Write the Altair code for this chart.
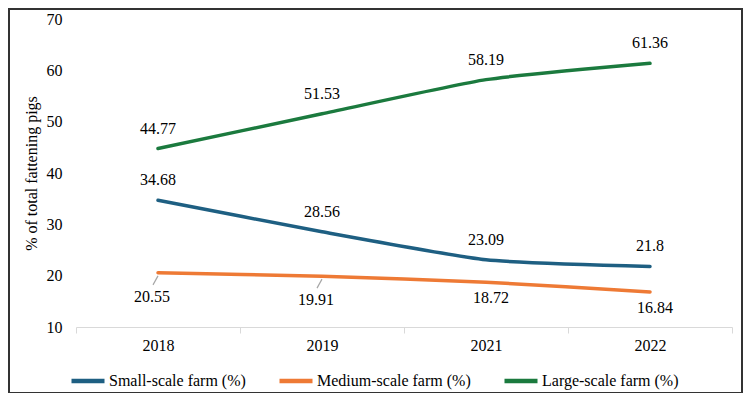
import altair as alt
import pandas as pd

years = ["2018", "2019", "2021", "2022"]
small = [34.68, 28.56, 23.09, 21.8]
medium = [20.55, 19.91, 18.72, 16.84]
large = [44.77, 51.53, 58.19, 61.36]

series_names = ["Small-scale farm (%)", "Medium-scale farm (%)", "Large-scale farm (%)"]
series_colors = ["#1E5F82", "#EE7A35", "#1B7A3E"]

rows = []
for name, vals in zip(series_names, [small, medium, large]):
    for y, v in zip(years, vals):
        rows.append({"year": y, "value": v, "series": name, "label": str(v)})
df = pd.DataFrame(rows)

FONT = "Liberation Serif"

x_enc = alt.X(
    "year:N",
    sort=years,
    scale=alt.Scale(type="band", paddingInner=0, paddingOuter=0),
    axis=alt.Axis(
        title=None, labelAngle=0, grid=False, domainColor="#d9d9d9", tickColor="#d9d9d9",
        tickSize=6, tickBand="extent", labelPadding=4, labelFontSize=16, labelFont=FONT,
        labelColor="#000000",
    ),
)
y_enc = alt.Y(
    "value:Q",
    scale=alt.Scale(domain=[10, 70], nice=False),
    axis=alt.Axis(
        values=[10, 20, 30, 40, 50, 60, 70], grid=False, domain=False, ticks=False,
        labelPadding=14, labelFontSize=16, labelFont=FONT, labelColor="#000000",
        title="% of total fattening pigs", titleFont=FONT, titleFontSize=16,
        titleFontWeight="normal", titleColor="#000000", titlePadding=7,
    ),
)

color_enc = alt.Color(
    "series:N",
    sort=series_names,
    scale=alt.Scale(domain=series_names, range=series_colors),
    legend=alt.Legend(
        title=None, orient="none", direction="horizontal", legendX=-7, legendY=343,
        symbolType="stroke", symbolSize=1089, symbolStrokeWidth=4.5,
        labelFont=FONT, labelFontSize=16, labelColor="#000000", labelOffset=2,
        columnPadding=24,
    ),
)

base = alt.Chart(df)

lines = base.mark_line(interpolate="cardinal", tension=0.5, strokeWidth=3.5, strokeCap="round").encode(
    x=x_enc, y=y_enc, color=color_enc
)

txt_kw = dict(font=FONT, fontSize=16, color="#000000", baseline="middle", align="center")

MED = series_names[1]
f_above = "datum.series !== '%s'" % MED
f_med_a = "datum.series === '%s' && (datum.year === '2018' || datum.year === '2019')" % MED
f_med_b = "datum.series === '%s' && (datum.year === '2021' || datum.year === '2022')" % MED

above = base.transform_filter(f_above).mark_text(dy=-20, **txt_kw).encode(
    x=x_enc, y=y_enc, text="label:N"
)
med_a = base.transform_filter(f_med_a).mark_text(dy=24, dx=-6, **txt_kw).encode(
    x=x_enc, y=y_enc, text="label:N"
)
med_b = base.transform_filter(f_med_b).mark_text(dy=16, dx=5, **txt_kw).encode(
    x=x_enc, y=y_enc, text="label:N"
)

leaders = base.transform_filter(f_med_a).mark_rule(
    color="#a6a6a6", strokeWidth=1.2, yOffset=3, y2Offset=12, x2Offset=-5
).encode(x=x_enc, y=y_enc, x2="year:N", y2="value:Q")

border = alt.Chart(pd.DataFrame({"a": [0]})).mark_rect(
    fillOpacity=0, stroke="#333333", strokeWidth=2
).encode(x=alt.value(-67), x2=alt.value(666), y=alt.value(-10), y2=alt.value(374))

chart = alt.layer(leaders, lines, above, med_a, med_b, border).properties(
    width=656,
    height=308,
    autosize=alt.AutoSizeParams(type="none"),
    padding={"left": 68, "top": 11, "right": 11, "bottom": 66},
).configure_view(stroke=None)

chart.save("out.html", embed_options={"renderer": "svg", "actions": False})
